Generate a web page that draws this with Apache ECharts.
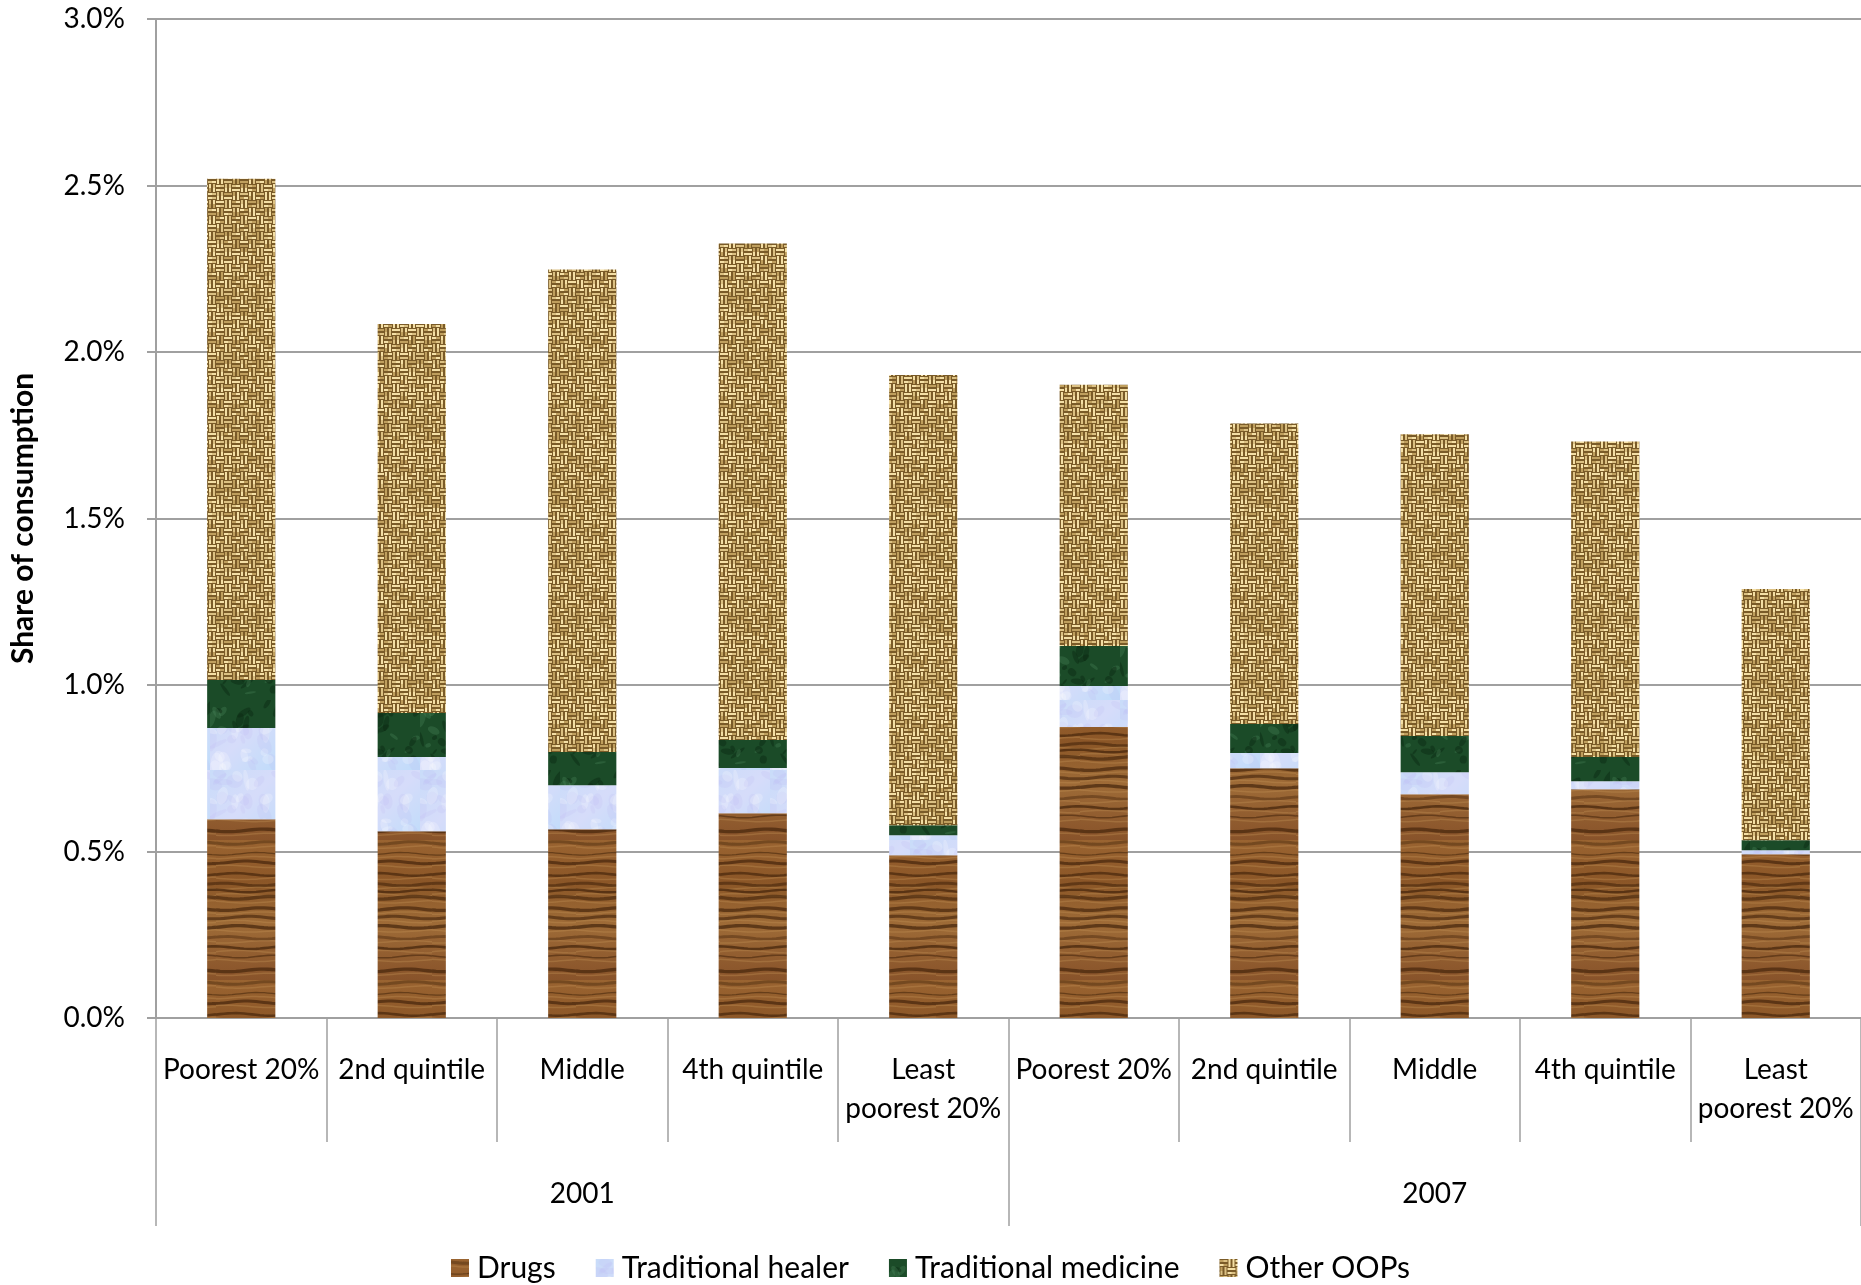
<!DOCTYPE html>
<html>
<head>
<meta charset="utf-8">
<script src="https://cdn.jsdelivr.net/npm/echarts@6/dist/echarts.min.js"></script>
<style>
html,body{margin:0;padding:0;background:#fff;}
#chart{width:1861px;height:1285px;}
</style>
</head>
<body>
<div id="chart"></div>
<script>
// ---- Data (share of consumption, %) ----
const categories = ['Poorest 20%','2nd quintile','Middle','4th quintile','Least\npoorest 20%',
                    'Poorest 20%','2nd quintile','Middle','4th quintile','Least\npoorest 20%'];
const years = ['2001','2007'];
const seriesNames = ['Drugs','Traditional healer','Traditional medicine','Other OOPs'];
const drugs    = [0.597,0.561,0.567,0.615,0.489, 0.874,0.750,0.672,0.687,0.492];
const healer   = [0.274,0.223,0.132,0.136,0.060, 0.123,0.046,0.066,0.024,0.012];
const medicine = [0.144,0.132,0.100,0.084,0.030, 0.120,0.087,0.109,0.073,0.030];
const other    = [1.505,1.168,1.449,1.491,1.352, 0.785,0.902,0.906,0.947,0.754];
const yTicks = [0,0.5,1.0,1.5,2.0,2.5,3.0];

// ---- Texture helpers (deterministic) ----
function makeCanvas(w,h,draw){const c=document.createElement('canvas');c.width=w;c.height=h;draw(c.getContext('2d'),w,h);return c;}
function hash(i,j){const s=Math.sin(i*127.1+j*311.7)*43758.5453;return s-Math.floor(s);}

const woodTex = makeCanvas(72,140,(g,w,h)=>{
  const gr=g.createLinearGradient(0,0,0,h);
  gr.addColorStop(0,'#9a6431');gr.addColorStop(0.3,'#8b5627');gr.addColorStop(0.6,'#9e6b37');gr.addColorStop(1,'#88532a');
  g.fillStyle=gr;g.fillRect(0,0,w,h);
  let y=3,k=0;
  while(y<h){
    const lw=1+hash(k,1)*2.5;
    g.strokeStyle='rgba(70,38,12,'+(0.4+hash(k,2)*0.4)+')';
    g.lineWidth=lw;g.beginPath();
    for(let x=0;x<=w;x+=4){const yy=y+Math.sin(x*0.09+k)*1.3;if(x===0)g.moveTo(x,yy);else g.lineTo(x,yy);}
    g.stroke();
    g.strokeStyle='rgba(195,145,85,0.35)';g.lineWidth=1.5;g.beginPath();
    for(let x=0;x<=w;x+=4){const yy=y+4+Math.sin(x*0.07+k*2)*1.2;if(x===0)g.moveTo(x,yy);else g.lineTo(x,yy);}
    g.stroke();
    y+=6+hash(k,3)*8;k++;
  }
});
const healerTex = makeCanvas(70,70,(g,w,h)=>{
  const gr=g.createLinearGradient(0,0,w,h);
  gr.addColorStop(0,'#c9dcf9');gr.addColorStop(0.5,'#d6dcfa');gr.addColorStop(1,'#bfdcfa');
  g.fillStyle=gr;g.fillRect(0,0,w,h);
  for(let i=0;i<40;i++){
    g.fillStyle=(i%2?'rgba(255,255,255,0.22)':'rgba(185,180,240,0.16)');
    g.beginPath();g.ellipse(hash(i,5)*w,hash(i,6)*h,3+hash(i,7)*8,2+hash(i,8)*5,hash(i,9)*3,0,Math.PI*2);g.fill();
  }
});
const medTex = makeCanvas(70,70,(g,w,h)=>{
  g.fillStyle='#1b4b28';g.fillRect(0,0,w,h);
  for(let i=0;i<30;i++){
    g.fillStyle=(i%3?'rgba(10,40,18,0.45)':'rgba(80,140,95,0.3)');
    g.beginPath();g.ellipse(hash(i,11)*w,hash(i,12)*h,2+hash(i,13)*7,1+hash(i,14)*3,hash(i,15)*3,0,Math.PI*2);g.fill();
  }
});
const otherTex = makeCanvas(64,64,(g,w,h)=>{
  g.fillStyle='#7a5b28';g.fillRect(0,0,w,h);
  const s=4;
  for(let i=0;i<w/s;i++){for(let j=0;j<h/s;j++){
    const r=hash(i,j);
    g.fillStyle=r>0.6?'#f4dfa5':(r>0.25?'#dcc183':'#bf9f5e');
    const horiz=((Math.floor(i/2)+Math.floor(j/2))%2===0);
    if(horiz){g.fillRect(i*s,j*s+1,s,2);} else {g.fillRect(i*s+1,j*s,2,s);}
  }}
});
const fills=[woodTex,healerTex,medTex,otherTex];
const values=[drugs,healer,medicine,other];

const FONT='Lato, "Noto Sans", sans-serif';
const GRID='#a0a0a0';

const chart=echarts.init(document.getElementById('chart'),null,{renderer:'canvas'});
chart.setOption({
  animation:false,
  backgroundColor:'#fff',
  grid:{left:156,right:0,top:19,bottom:267,containLabel:false,outerBoundsMode:'none'},
  legend:{
    data:seriesNames,top:1248,left:'center',itemWidth:18,itemHeight:18,itemGap:40,
    icon:'rect',
    textStyle:{fontFamily:FONT,fontSize:30,color:'#000',padding:[0,0,0,3]}
  },
  xAxis:[{
    type:'category',data:categories,position:'bottom',
    axisLine:{show:true,lineStyle:{color:GRID,width:2}},
    axisTick:{show:true,length:124,lineStyle:{color:GRID,width:1.5}},
    axisLabel:{interval:0,margin:32,fontFamily:FONT,fontSize:28,color:'#000',lineHeight:39},
    splitLine:{show:false}
  },{
    type:'category',data:years,position:'bottom',
    axisLine:{show:false},
    axisTick:{show:true,length:208,lineStyle:{color:GRID,width:1.5}},
    axisLabel:{interval:0,margin:162,fontFamily:FONT,fontSize:28,color:'#000'},
    splitLine:{show:false}
  }],
  yAxis:{
    type:'value',min:yTicks[0],max:yTicks[yTicks.length-1],interval:0.5,
    name:'Share of consumption',nameLocation:'middle',nameGap:118,
    nameTextStyle:{fontFamily:FONT,fontSize:30,fontWeight:'bold',color:'#000'},
    axisLine:{show:true,lineStyle:{color:GRID,width:2}},
    axisTick:{show:true,length:9,lineStyle:{color:GRID,width:2}},
    axisLabel:{margin:31,fontFamily:FONT,fontSize:28,color:'#000',formatter:v=>v.toFixed(1)+'%'},
    splitLine:{show:true,lineStyle:{color:GRID,width:2}}
  },
  series:seriesNames.map((n,i)=>({
    name:n,type:'bar',stack:'total',xAxisIndex:0,barWidth:'40%',
    data:values[i],
    itemStyle:{color:{image:fills[i],repeat:'repeat'}}
  }))
});
</script>
</body>
</html>
